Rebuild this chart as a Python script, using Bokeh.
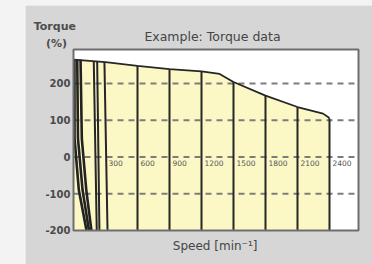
import numpy as np
from bokeh.plotting import figure
from bokeh.models import Spacer
from bokeh.layouts import row, column
from bokeh.core.properties import value
from bokeh.embed import file_html
from bokeh.resources import INLINE

# ---- data ----
# torque envelope (speed in min^-1, torque in %)
env_speed = [0, 300, 600, 900, 1200, 1370, 1500, 1800, 2100, 2340, 2390, 2400]
env_torque = [265, 258, 248, 239, 233, 226, 204, 167, 136, 118, 108, 104]

# near-vertical speed lines: speed at the top (on the envelope) and at -200 %
line_speed_top = [190, 222, 290, 600, 900, 1200, 1500, 1800, 2100, 2400]
line_speed_bot = [218, 243, 319, 600, 900, 1200, 1500, 1800, 2100, 2400]

# steep low-speed curves at the left
low_torque = [265, 50, -90, -200]
low_speed_1 = [9, 10, 50, 122]
low_speed_2 = [35, 42, 85, 145]
low_speed_3 = [66, 78, 120, 168]

x_ticks = [300, 600, 900, 1200, 1500, 1800, 2100, 2400]
x_tick_labels = ["300", "600", "900", "1200", "1500", "1800", "2100", "2400"]
y_ticks = [-200, -100, 0, 100, 200]
y_tick_labels = ["-200", "-100", "0", "100", "200"]
grid_levels = [200, 100, 0, -100]

title_text = "Example: Torque data"
y_caption = ["Torque", "(%)"]
x_caption = "Speed [min\u207b\u00b9]"

# plot-area extent in data units
AX_X0, AX_X1 = 0, 2672
AX_Y0, AX_Y1 = -200, 292.5
# whole-panel extent in data units (panel drawn as one frame)
PX_PER_X = 32 / 300.0
PX_PER_Y = 0.3675
X0 = AX_X0 - 48 / PX_PER_X
X1 = AX_X1 + 14 / PX_PER_X
Y0 = AX_Y0 - 34 / PX_PER_Y
Y1 = AX_Y1 + 44 / PX_PER_Y

FONT = "DejaVu Sans"
TXT = "#454545"
DARK = "#262626"
OUTER = "#f3f3f3"
PANEL = "#d6d6d6"

p = figure(width=347, height=259, x_range=(X0, X1), y_range=(Y0, Y1),
           output_backend="svg", toolbar_location=None,
           min_border=0, min_border_left=0, min_border_right=0,
           min_border_top=0, min_border_bottom=0)
p.axis.visible = False
p.grid.visible = False
p.outline_line_color = None
p.background_fill_color = PANEL
p.border_fill_color = PANEL

# white plot area
p.quad(left=[AX_X0], right=[AX_X1], bottom=[AX_Y0], top=[AX_Y1],
       fill_color="#ffffff", line_color=None)

# yellow operating area
p.varea(x=env_speed, y1=[AX_Y0] * len(env_speed), y2=env_torque,
        fill_color="#fcf8c6", fill_alpha=1)

# dashed reference lines
p.segment(x0=[AX_X0] * len(grid_levels), y0=grid_levels,
          x1=[AX_X1] * len(grid_levels), y1=grid_levels,
          line_color="#7c7c7c", line_width=1.8, line_dash="6 5")

# vertical speed lines
tops = np.interp(line_speed_top, env_speed, env_torque)
p.segment(x0=line_speed_top, y0=tops, x1=line_speed_bot,
          y1=[AX_Y0] * len(line_speed_bot), line_color=DARK, line_width=2)

# steep low-speed curves
p.multi_line(xs=[low_speed_1, low_speed_2, low_speed_3],
             ys=[low_torque, low_torque, low_torque],
             line_color="#222222", line_width=2.6)

# envelope
p.line(env_speed, env_torque, line_color=DARK, line_width=1.8)

# frame around the plot area
p.quad(left=[AX_X0], right=[AX_X1], bottom=[AX_Y0], top=[AX_Y1],
       fill_color=None, line_color="#6e6e6e", line_width=2)

# x tick labels inside the plot, just under the 0 line
p.text(x=x_ticks, y=[0] * len(x_ticks), text=x_tick_labels,
       x_offset=3, y_offset=3, text_baseline="top", text_align="left",
       text_font=value(FONT), text_font_size="7.5px", text_color="#555555")

# y tick labels left of the frame
p.text(x=[AX_X0] * len(y_ticks), y=y_ticks, text=y_tick_labels,
       x_offset=-3, text_baseline="middle", text_align="right",
       text_font=value(FONT), text_font_size="10px", text_font_style="bold",
       text_color="#4a4a4a")

# title
p.text(x=[1303], y=[329], text=[title_text], text_align="center",
       text_baseline="middle", text_font=value(FONT), text_font_size="12.5px",
       text_color=TXT)

# y caption at top left
p.text(x=[-175, -159], y=[354, 309], text=y_caption, text_align="center",
       text_baseline="middle", text_font=value(FONT), text_font_size="11px",
       text_font_style="bold", text_color="#4d4d4d")

# x caption
p.text(x=[1328], y=[-242], text=[x_caption], text_align="center",
       text_baseline="middle", text_font=value(FONT), text_font_size="12px",
       text_color=TXT)

top_pad = Spacer(width=372, height=5, styles={"background-color": OUTER})
left_pad = Spacer(width=25, height=259, styles={"background-color": OUTER})
layout = column(top_pad, row(left_pad, p))

open("out.html", "w").write(file_html(layout, INLINE))
